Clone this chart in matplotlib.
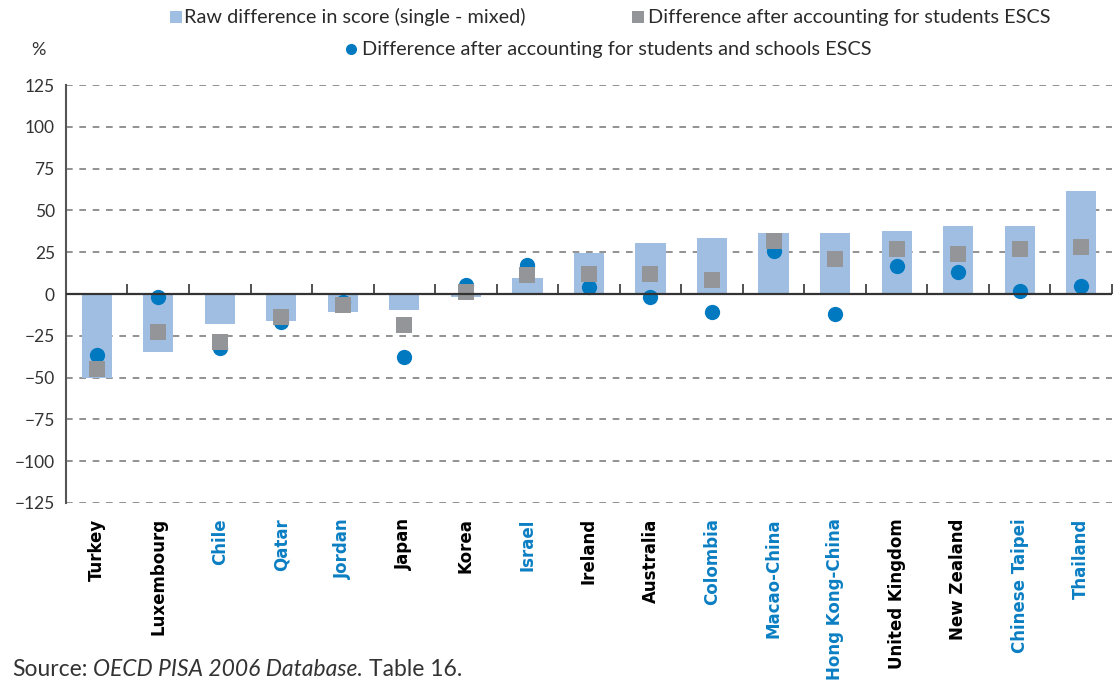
import numpy as np
import matplotlib
matplotlib.use('Agg')
import matplotlib.pyplot as plt
from matplotlib.lines import Line2D

# Countries and whether they are partner (blue label) or OECD (black label)
countries = ['Turkey', 'Luxembourg', 'Chile', 'Qatar', 'Jordan', 'Japan', 'Korea', 'Israel',
             'Ireland', 'Australia', 'Colombia', 'Macao-China', 'Hong Kong-China',
             'United Kingdom', 'New Zealand', 'Chinese Taipei', 'Thailand']
partner = [False, False, True, True, True, False, False, True,
           False, False, True, True, True, False, False, True, True]

# Raw difference in score (single - mixed)
raw_diff = [-50, -34.5, -18, -16, -10.5, -9.5, -1.5, 9.5,
            24.5, 30.5, 33.5, 36.5, 36.5, 37.5, 40.5, 41, 61.5]
# Difference after accounting for students ESCS
diff_students = [-45, -23, -28.5, -14, -6.5, -18.5, 1.5, 11.5,
                 12, 12, 8.5, 32, 21, 27, 24, 27, 28]
# Difference after accounting for students and schools ESCS
diff_schools = [-36.5, -2, -32, -17, -5, -37.5, 5.5, 17.5,
                4.5, -2, -11, 26, -12, 17, 13, 2, 5]

legend_labels = ['Raw difference in score (single - mixed)',
                 'Difference after accounting for students ESCS',
                 'Difference after accounting for students and schools ESCS']

bar_color = '#a0bee2'
square_color = '#939598'
circle_color = '#0079c1'
label_blue = '#0b7ec3'
text_color = '#2a2a2a'

plt.rcParams['font.family'] = ['Lato', 'DejaVu Sans']

W, H = 1118, 681
fig = plt.figure(figsize=(W / 100, H / 100), dpi=100)
ax = fig.add_axes([0.059, 0.2614, 0.9356, 0.6136])

x = np.arange(len(countries))

# Bars, then circles, squares drawn on top
ax.bar(x, raw_diff, width=0.49, color=bar_color, zorder=2)
ax.plot(x, diff_schools, 'o', color=circle_color, markersize=11, markeredgewidth=0, zorder=3)
ax.plot(x, diff_students, 's', color=square_color, markersize=11.5, markeredgewidth=0, zorder=4)

# Axis limits and gridlines
ax.set_xlim(-0.5, len(countries) - 0.5)
ax.set_ylim(-125, 125)
ax.set_yticks(np.arange(-125, 126, 25))
for v in np.arange(-125, 126, 25):
    if v != 0:
        ax.axhline(v, color='#7f7f7f', linestyle=(0, (4, 4)), linewidth=1.2, zorder=1)
ax.axhline(0, color='#333333', linewidth=1.6, zorder=5)

# Small ticks at category boundaries on the zero line
bounds = np.arange(0.5, len(countries), 1)
ax.vlines(bounds, 0, 6, color='#333333', linewidth=1.2, zorder=5, clip_on=False)

for s in ['top', 'right', 'bottom']:
    ax.spines[s].set_visible(False)
ax.spines['left'].set_color('#555555')
ax.spines['left'].set_linewidth(1.5)

ax.tick_params(axis='y', length=0, pad=8, labelsize=12.5, labelcolor='#333333')
ax.set_xticks(x)
ax.set_xticklabels(countries, rotation=90, fontsize=12, fontweight='bold',
                   family='DejaVu Sans', va='top')
ax.tick_params(axis='x', length=0, pad=11)
for lab, p in zip(ax.get_xticklabels(), partner):
    lab.set_color(label_blue if p else 'black')

# Percent label above the y axis
fig.text(38 / W, 1 - 50 / H, '%', fontsize=13, ha='center', va='center', color='#333333')

# Legend drawn by hand: (marker, colour, marker x, text x, y) in pixels
legend_items = [('s', bar_color, 176, 184, 17),
                ('s', square_color, 638, 648, 17),
                ('o', circle_color, 351, 362, 49)]
for (mk, col, mx, tx, ty), lab in zip(legend_items, legend_labels):
    fig.add_artist(Line2D([mx / W], [1 - ty / H], marker=mk, color=col, markersize=8,
                          markeredgewidth=0, linestyle='none', transform=fig.transFigure))
    fig.text(tx / W, 1 - ty / H, lab, fontsize=14.3, va='center', color=text_color)

# Source note, pieces placed one after another
fig.canvas.draw()
renderer = fig.canvas.get_renderer()
xpos = 12
for piece, style in [('Source:', 'normal'), ('OECD PISA 2006 Database.', 'italic'),
                     ('Table 16.', 'normal')]:
    t = fig.text(xpos / W, 1 - 669 / H, piece, fontsize=16.5, va='center',
                 style=style, color='#333333')
    bb = t.get_window_extent(renderer)
    xpos += bb.width + 6

fig.savefig('out.png', dpi=100)
